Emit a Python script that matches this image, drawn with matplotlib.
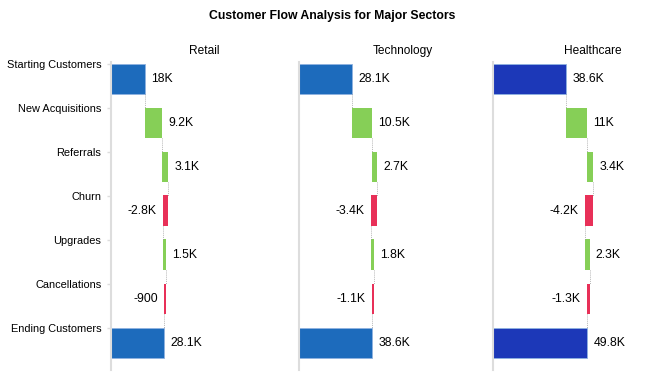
import matplotlib.pyplot as plt

plt.rcParams['font.family'] = ['Liberation Sans', 'DejaVu Sans']

steps = ["Starting Customers", "New Acquisitions", "Referrals", "Churn",
         "Upgrades", "Cancellations", "Ending Customers"]
sectors = ["Retail", "Technology", "Healthcare"]

# starting value followed by the changes; ending total is the running sum
retail = [18000, 9200, 3100, -2800, 1500, -900]
technology = [28100, 10500, 2700, -3400, 1800, -1100]
healthcare = [38600, 11000, 3400, -4200, 2300, -1300]

total_colors = ["#1d6bbc", "#1d6bbc", "#1c38b8"]
up_color = "#86cf57"
down_color = "#e83058"

W, H = 660, 380
left_px = [111, 299, 493]
title_px = [204, 403, 593]
panel_w = 160
px_per_unit = 1.89 / 1000


def fmt(v):
    if abs(v) >= 1000:
        s = f"{v / 1000:.1f}".rstrip("0").rstrip(".")
        return s + "K"
    return str(int(v))


fig = plt.figure(figsize=(W / 100, H / 100), dpi=100)
fig.text(332 / W, 1 - 16 / H, "Customer Flow Analysis for Major Sectors",
         ha="center", va="center", fontsize=8.8, fontweight="bold")

top_px, bottom_px = 62, 370
for k, (name, vals) in enumerate(zip(sectors, [retail, technology, healthcare])):
    ax = fig.add_axes([left_px[k] / W, 1 - bottom_px / H,
                       panel_w / W, (bottom_px - top_px) / H])
    fig.text(title_px[k] / W, 1 - 51 / H, name, ha="center", va="center",
             fontsize=8.6)

    bar_h = 0.69
    running = 0
    ends = []
    for i, label in enumerate(steps):
        y = i + bar_h / 2
        if i == 0 or i == len(steps) - 1:
            v = vals[0] if i == 0 else running
            ax.barh(y, v, left=0, height=bar_h, color=total_colors[k],
                    edgecolor="#8fb2e0", linewidth=0.6)
            running = v
            ax.annotate(fmt(v), (v, y), xytext=(4.5, 0), textcoords="offset points",
                        ha="left", va="center", fontsize=8.8)
        else:
            d = vals[i]
            ax.barh(y, d, left=running, height=bar_h,
                    color=up_color if d > 0 else down_color,
                    edgecolor="none")
            running += d
            if d > 0:
                ax.annotate(fmt(d), (running, y), xytext=(4.5, 0),
                            textcoords="offset points", ha="left", va="center",
                            fontsize=8.8)
            else:
                ax.annotate(fmt(d), (running, y), xytext=(-4.5, 0),
                            textcoords="offset points", ha="right", va="center",
                            fontsize=8.8)
        ends.append(running)

    # dotted connectors between consecutive bars
    for i in range(len(steps) - 1):
        ax.plot([ends[i], ends[i]], [i + bar_h, i + 1], color="#999999",
                linestyle=(0, (1, 1.5)), linewidth=0.6)

    ax.set_xlim(0, panel_w / px_per_unit)
    step_px = 44
    ax.set_ylim((bottom_px - 63.5) / step_px, (top_px - 63.5) / step_px)
    ax.set_yticks(range(len(steps)))
    if k == 0:
        ax.set_yticklabels(steps, fontsize=7.9)
        ax.tick_params(axis="y", length=3, width=1, color="#dddddd", pad=4)
    else:
        ax.set_yticklabels([])
        ax.tick_params(axis="y", length=0)
    ax.set_xticks([])
    for side in ["top", "right", "bottom"]:
        ax.spines[side].set_visible(False)
    ax.spines["left"].set_color("#dddddd")
    ax.spines["left"].set_linewidth(1.5)
    ax.patch.set_alpha(0)

fig.savefig("out.png", dpi=100)
